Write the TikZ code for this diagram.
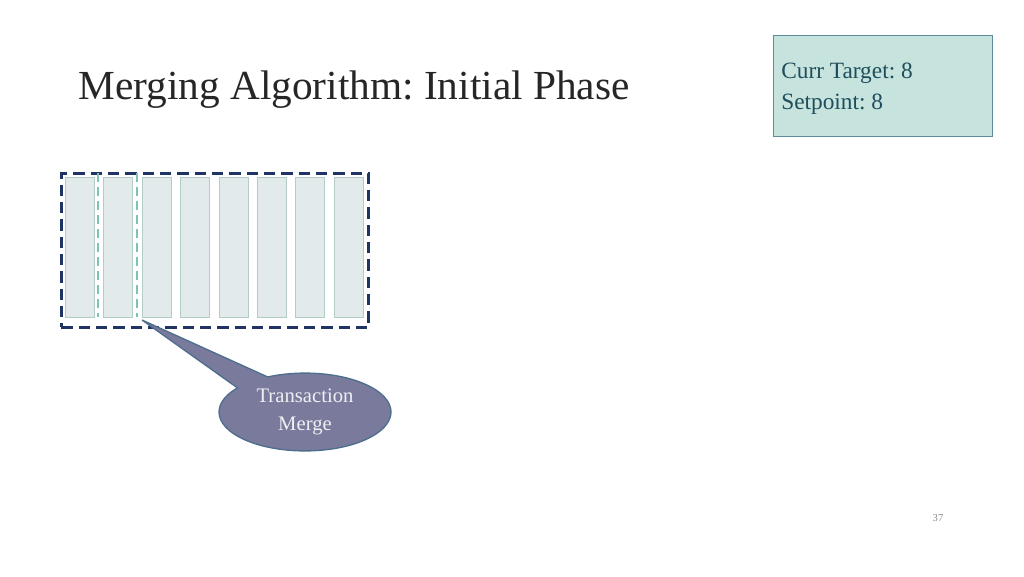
\documentclass[tikz,border=0pt]{standalone}
\usepackage{fontspec}
\setmainfont{Liberation Serif}
\frenchspacing
\usetikzlibrary{shapes.callouts,shapes.geometric}
\definecolor{navy}{HTML}{1F3463}
\definecolor{barfill}{HTML}{E3EAEB}
\definecolor{barline}{HTML}{B4CCC6}
\definecolor{tealdash}{HTML}{7CC3B6}
\definecolor{callfill}{HTML}{7A7A9C}
\definecolor{callline}{HTML}{4E6E8E}
\definecolor{boxfill}{HTML}{C6E4DD}
\definecolor{boxline}{HTML}{5E8C9C}
\definecolor{boxtext}{HTML}{1F4D5C}
\tikzset{
  bar/.style={draw=barline, line width=0.6pt, fill=barfill, minimum width=21.5pt, minimum height=105pt, inner sep=0pt, anchor=north west},
  merge/.style={draw=tealdash, line width=1.8pt, dash pattern=on 7pt off 3.5pt},
  frame/.style={draw=navy, line width=2.2pt, dash pattern=on 8.5pt off 4.5pt},
}
\begin{document}
\begin{tikzpicture}[x=0.75pt,y=-0.75pt]
\useasboundingbox (0,0) rectangle (1024,576);
\node[anchor=west, font=\fontsize{31}{36}\selectfont, text=black!85, inner sep=0pt] (title) at (78,90) {Merging Algorithm: Initial Phase};
\node[draw=boxline, line width=0.9pt, fill=boxfill, anchor=north west, minimum width=164pt, minimum height=75.5pt] (box) at (773,35) {};
\node[anchor=west, align=left, text=boxtext, font=\fontsize{17.5}{23.5}\selectfont, inner sep=0pt] (boxtxt) at (781,89) {Curr Target: 8\\Setpoint: 8};
\foreach \i/\x in {1/65,2/103,3/142,4/180,5/219,6/257,7/295,8/334}{
  \node[bar] (b\i) at (\x,177) {};
}
\node[frame, fill=none, anchor=north west, minimum width=230.5pt, minimum height=115.5pt, inner sep=0pt] (fr) at (60,172) {};
\coordinate (m1t) at (98,173);
\coordinate (m1b) at (98,317);
\coordinate (m2t) at (137,173);
\coordinate (m2b) at (137,317);
\draw[merge] (m1t) -- (m1b);
\draw[merge] (m2t) -- (m2b);
\coordinate (tip) at (142,320);
\node[ellipse callout, callout absolute pointer={(tip)}, callout pointer arc=26, draw=callline, line width=1pt, fill=callfill, minimum width=129pt, minimum height=57pt, align=center, text=white!88!callfill, font=\fontsize{15.5}{21}\selectfont] (call) at (305,412) {Transaction\\Merge};
\node[text=black!45, font=\fontsize{8}{10}\selectfont] (pg) at (938,518) {37};
\end{tikzpicture}
\end{document}
